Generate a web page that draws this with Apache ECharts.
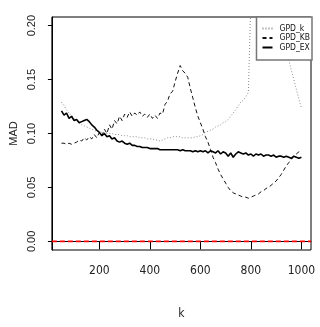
<!DOCTYPE html>
<html>
<head>
<meta charset="utf-8">
<script src="https://cdn.jsdelivr.net/npm/echarts@6/dist/echarts.min.js"></script>
<style>
  html, body { margin: 0; padding: 0; background: #fff; }
  #chart { width: 320px; height: 327px; }
</style>
</head>
<body>
<div id="chart"></div>
<script>
// k values (x axis)
var kValues = [50, 60, 70, 80, 90, 100, 110, 120, 130, 140, 150, 160, 170, 180, 190, 200,
  210, 220, 230, 240, 250, 260, 270, 280, 290, 300, 310, 320, 330, 340, 350, 360, 370, 380, 390, 400,
  410, 420, 430, 440, 450, 460, 470, 480, 490, 500, 510, 520, 530, 540, 550, 560, 570, 580, 590, 600,
  610, 620, 630, 640, 650, 660, 670, 680, 690, 700, 710, 720, 730, 740, 750, 760, 770, 780, 790, 800,
  810, 820, 830, 840, 850, 860, 870, 880, 890, 900, 910, 920, 930, 940, 950, 960, 970, 980, 990, 1000]

// GPD_k (grey dotted) - goes off the top between ~800 and ~900
var gpdK = [0.129, 0.126, 0.122, 0.119, 0.116, 0.114, 0.112, 0.110, 0.108, 0.107, 0.106, 0.105, 0.104, 0.103, 0.102, 0.102,
  0.101, 0.101, 0.100, 0.100, 0.100, 0.099, 0.099, 0.099, 0.098, 0.098, 0.098, 0.097, 0.097, 0.097, 0.097, 0.096, 0.096, 0.096, 0.095, 0.095,
  0.095, 0.094, 0.094, 0.093, 0.094, 0.095, 0.096, 0.096, 0.097, 0.097, 0.097, 0.097, 0.096, 0.096, 0.096, 0.096, 0.096, 0.097, 0.097, 0.098,
  0.099, 0.101, 0.102, 0.103, 0.104, 0.106, 0.107, 0.108, 0.110, 0.111, 0.113, 0.116, 0.119, 0.122, 0.126, 0.129, 0.131, 0.134, 0.138, 0.225,
  0.26, 0.28, 0.29, 0.30, 0.30, 0.29, 0.27, 0.25, 0.23, 0.215, 0.205, 0.196, 0.187, 0.177, 0.168, 0.159, 0.150, 0.141, 0.132, 0.124]

// GPD_KB (black dashed)
var gpdKB = [0.091, 0.091, 0.090, 0.091, 0.090, 0.091, 0.092, 0.094, 0.093, 0.096, 0.094, 0.097, 0.095, 0.099, 0.096, 0.101,
  0.098, 0.104, 0.100, 0.108, 0.104, 0.112, 0.109, 0.116, 0.112, 0.118, 0.115, 0.120, 0.116, 0.119, 0.117, 0.120, 0.116, 0.118, 0.115, 0.118,
  0.114, 0.117, 0.114, 0.119, 0.118, 0.127, 0.130, 0.137, 0.139, 0.148, 0.156, 0.163, 0.158, 0.156, 0.152, 0.142, 0.133, 0.124, 0.116, 0.110,
  0.104, 0.097, 0.092, 0.085, 0.078, 0.073, 0.067, 0.062, 0.058, 0.054, 0.050, 0.047, 0.045, 0.044, 0.043, 0.042, 0.041, 0.041, 0.040, 0.041,
  0.042, 0.043, 0.044, 0.046, 0.047, 0.049, 0.050, 0.052, 0.054, 0.056, 0.059, 0.062, 0.066, 0.070, 0.073, 0.076, 0.079, 0.081, 0.083, 0.084]

// GPD_EX (black solid)
var gpdEX = [0.121, 0.117, 0.119, 0.114, 0.116, 0.112, 0.113, 0.110, 0.111, 0.112, 0.113, 0.111, 0.108, 0.106, 0.103, 0.101,
  0.098, 0.100, 0.097, 0.098, 0.095, 0.096, 0.093, 0.092, 0.093, 0.091, 0.090, 0.091, 0.089, 0.089, 0.088, 0.088, 0.087, 0.087, 0.087, 0.086,
  0.086, 0.086, 0.086, 0.085, 0.085, 0.085, 0.085, 0.085, 0.085, 0.085, 0.085, 0.084, 0.085, 0.084, 0.084, 0.084, 0.083, 0.084, 0.083, 0.084,
  0.083, 0.084, 0.082, 0.084, 0.083, 0.082, 0.084, 0.081, 0.083, 0.082, 0.079, 0.082, 0.078, 0.081, 0.083, 0.082, 0.081, 0.082, 0.080, 0.081,
  0.079, 0.081, 0.080, 0.081, 0.079, 0.080, 0.080, 0.079, 0.080, 0.078, 0.079, 0.079, 0.078, 0.079, 0.078, 0.077, 0.079, 0.078, 0.077, 0.078]

var xTicks = [200, 400, 600, 800, 1000]
var yTicks = [0, 0.05, 0.1, 0.15, 0.2]
var xMin = 12, xMax = 1038
var refLevel = 0  // red dashed reference line

function pairs(ys) {
  return kValues.map(function (k, i) { return [k, ys[i]] })
}

var font = "'DejaVu Sans Condensed', 'Liberation Sans Narrow', 'Liberation Sans', sans-serif"

var chart = echarts.init(document.getElementById('chart'))
chart.setOption({
  animation: false,
  grid: {
    left: 42, right: 9, top: 17, bottom: 77,
    show: true, borderColor: '#000', borderWidth: 1
  },
  legend: {
    orient: 'vertical',
    right: 8, top: 17,
    padding: [7, 2, 8, 5],
    itemWidth: 10, itemHeight: 8, itemGap: 0.5,
    backgroundColor: '#fff',
    borderColor: '#777', borderWidth: 1.5, borderRadius: 0,
    itemStyle: { opacity: 0 },
    textStyle: { fontFamily: font, fontSize: 8.5, color: '#111', padding: [0, 0, 0, 2] },
    data: ['GPD_k', 'GPD_KB', 'GPD_EX']
  },
  xAxis: {
    type: 'value', min: xMin, max: xMax,
    name: 'k', nameLocation: 'middle', nameGap: 58,
    nameTextStyle: { fontFamily: font, fontSize: 12, color: '#222' },
    splitLine: { show: false },
    axisLine: { lineStyle: { color: '#000' } },
    axisTick: { customValues: xTicks, length: 8, lineStyle: { color: '#000' } },
    axisLabel: {
      customValues: xTicks, margin: 15, fontFamily: font, fontSize: 12, color: '#222',
      formatter: function (v) { return String(v) }
    }
  },
  yAxis: {
    type: 'value', min: -0.008, max: 0.208,
    name: 'MAD', nameLocation: 'middle', nameGap: 29, nameRotate: 90,
    nameTextStyle: { fontFamily: 'Liberation Sans', fontSize: 11, color: '#222' },
    splitLine: { show: false },
    axisLine: { show: true, lineStyle: { color: '#000' } },
    axisTick: { show: true, customValues: yTicks, length: 4, lineStyle: { color: '#000' } },
    axisLabel: {
      customValues: yTicks, rotate: 90, margin: 14,
      fontFamily: 'Liberation Sans', fontSize: 11, color: '#222',
      formatter: function (v) { return v.toFixed(2) }
    }
  },
  series: [
    {
      name: 'ref', type: 'line', symbol: 'none', silent: true, z: 1,
      data: [[xMin, refLevel], [xMax, refLevel]],
      lineStyle: { color: '#ff0000', type: [5, 3], width: 1.8 }
    },
    {
      name: 'GPD_k', type: 'line', data: pairs(gpdK), symbol: 'none', clip: true,
      lineStyle: { color: '#8a8a8a', width: 1, type: [1, 2] },
      itemStyle: { color: '#8a8a8a' }
    },
    {
      name: 'GPD_KB', type: 'line', data: pairs(gpdKB), symbol: 'none', clip: true,
      lineStyle: { color: '#111', width: 1, type: [4, 3] },
      itemStyle: { color: '#111' }
    },
    {
      name: 'GPD_EX', type: 'line', data: pairs(gpdEX), symbol: 'none', clip: true,
      lineStyle: { color: '#000', width: 1.6 },
      itemStyle: { color: '#000' }
    }
  ]
})
</script>
</body>
</html>
